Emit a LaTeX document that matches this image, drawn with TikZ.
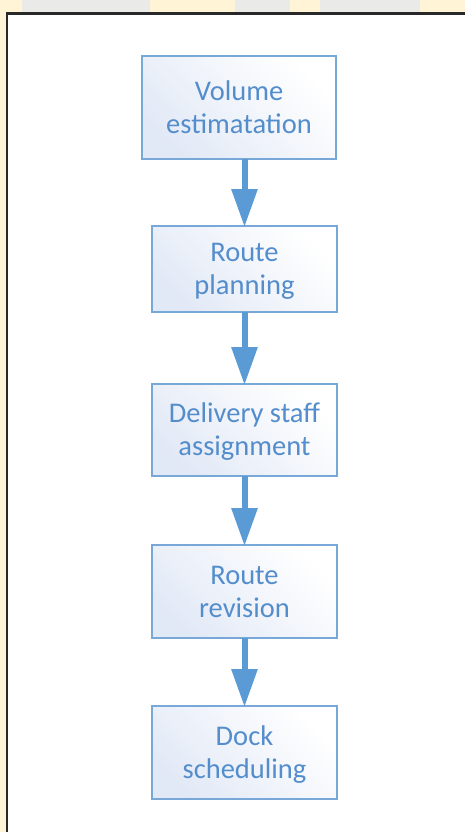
\documentclass[tikz,border=0pt]{standalone}
\usepackage{fontspec}
\setmainfont{Carlito}
\usetikzlibrary{arrows.meta,positioning}
\definecolor{txtblue}{RGB}{84,141,204}
\definecolor{boxline}{RGB}{120,168,216}
\definecolor{boxfill}{RGB}{226,233,246}
\definecolor{arrowblue}{RGB}{91,155,213}
\definecolor{wmyellow}{RGB}{255,245,214}
\definecolor{wmgray}{RGB}{234,235,232}
\definecolor{framecol}{RGB}{40,40,40}
\tikzset{
  stepbox/.style={draw=boxline, line width=1.6pt, left color=boxfill, right color=white, shading angle=135,
    inner sep=0pt, outer sep=0pt, align=center, text=txtblue,
    font=\fontsize{28.5}{33}\selectfont, text height=51.5pt, text depth=0pt},
  flowarrow/.style={draw=arrowblue, line width=6pt, -{Triangle[width=25pt,length=38pt]}, shorten >=-1pt}
}
\begin{document}
\begin{tikzpicture}[x=1pt,y=-1pt]
\useasboundingbox (0,0) rectangle (465,832);
\clip (0,0) rectangle (465,832);
% watermark background
\fill[wmgray] (0,0) rectangle (465,832);
\fill[wmyellow] (0,0) rectangle (22,832);
\fill[wmyellow] (150,0) rectangle (235,14);
\fill[wmyellow] (290,0) rectangle (320,14);
\fill[wmyellow] (420,0) rectangle (465,14);
\fill[wmyellow] (0,200) rectangle (8,420);
% frame
\fill[white] (7,13.5) rectangle (470,840);
\draw[framecol, line width=2.4pt] (7,840) -- (7,13.5) -- (470,13.5);
% boxes
\node[stepbox, minimum width=194pt, minimum height=103pt] (b1) at (239,107.5) {Volume\\estimatation};
\node[stepbox, minimum width=185pt, minimum height=86pt] (b2) at (244.5,269) {Route\\planning};
\node[stepbox, minimum width=185pt, minimum height=92pt] (b3) at (244.5,430) {Delivery staff\\assignment};
\node[stepbox, minimum width=185pt, minimum height=93pt] (b4) at (244.5,591.5) {Route\\revision};
\node[stepbox, minimum width=185pt, minimum height=93pt] (b5) at (244.5,752.5) {Dock\\scheduling};
% arrows
\draw[flowarrow] (b1.south -| b2.north) -- (b2.north);
\draw[flowarrow] (b2.south) -- (b3.north);
\draw[flowarrow] (b3.south) -- (b4.north);
\draw[flowarrow] (b4.south) -- (b5.north);
\end{tikzpicture}
\end{document}
